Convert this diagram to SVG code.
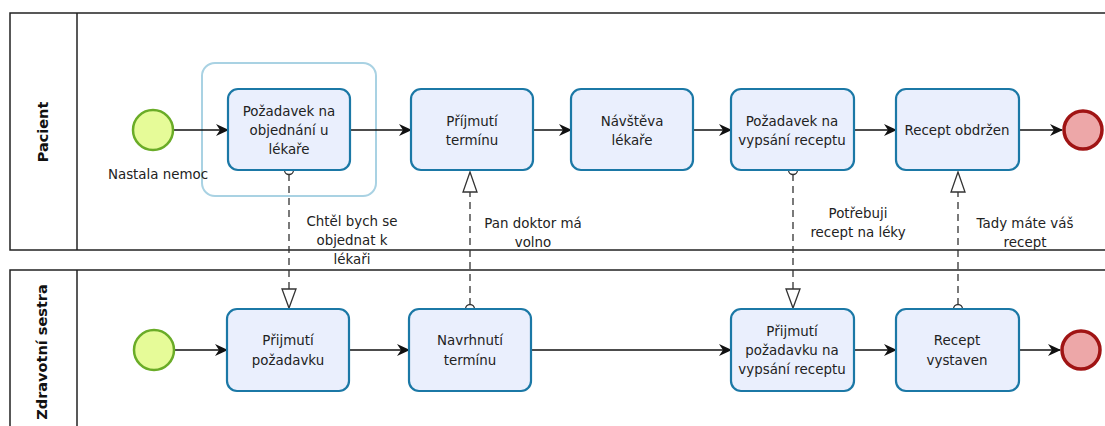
<svg xmlns="http://www.w3.org/2000/svg" width="1105" height="426" viewBox="0 0 1105 426">
<defs>
<style>
.pool{fill:#fff;stroke:#222;stroke-width:1.5}
.task rect{fill:#eaeffd;stroke:#1b78a6;stroke-width:2.2}
.t{font-family:"DejaVu Sans",sans-serif;font-size:13.4px;fill:#222;text-anchor:middle}
.pl{font-family:"DejaVu Sans",sans-serif;font-size:14.5px;font-weight:bold;fill:#111;text-anchor:middle}
.seq{stroke:#111;stroke-width:1.5;fill:none;marker-end:url(#arr)}
.msg{stroke:#333;stroke-width:1.3;fill:none;stroke-dasharray:7,5}
.mc{fill:#fff;stroke:#333;stroke-width:1.3}
.mt{fill:#fff;stroke:#333;stroke-width:1.3}
.start{fill:#e6fb98;stroke:#6aac27;stroke-width:2.5}
.end{fill:#eda7a8;stroke:#a01414;stroke-width:3.5}
</style>
<marker id="arr" markerWidth="14" markerHeight="14" refX="12" refY="7" orient="auto" markerUnits="userSpaceOnUse">
<path d="M0,1 L13,7 L0,13 L4,7 Z" fill="#111"/>
</marker>
</defs>
<g id="pool-pacient">
<rect class="pool" x="10" y="13" width="1110" height="237"/>
<line x1="77" y1="13" x2="77" y2="250" stroke="#222" stroke-width="1.5"/>
<text class="pl" transform="translate(48,132) rotate(-90)">Pacient</text>
</g>
<g id="pool-sestra">
<rect class="pool" x="10" y="270" width="1110" height="170"/>
<line x1="77" y1="270" x2="77" y2="426" stroke="#222" stroke-width="1.5"/>
<text class="pl" transform="translate(47,352) rotate(-90)">Zdravotní sestra</text>
</g>
<g id="group1">
<rect x="202" y="63" width="174" height="133" rx="13" fill="none" stroke="#a9d2e3" stroke-width="2"/>
</g>
<g id="connectors">
<line class="seq" x1="174" y1="130" x2="228" y2="130"/>
<line class="seq" x1="350" y1="130" x2="411" y2="130"/>
<line class="seq" x1="533" y1="130" x2="571" y2="130"/>
<line class="seq" x1="693" y1="130" x2="731" y2="130"/>
<line class="seq" x1="854" y1="130" x2="896" y2="130"/>
<line class="seq" x1="1019" y1="130" x2="1062" y2="130"/>
<line class="seq" x1="175" y1="350" x2="227" y2="350"/>
<line class="seq" x1="349" y1="350" x2="409" y2="350"/>
<line class="seq" x1="531" y1="350" x2="731" y2="350"/>
<line class="seq" x1="854" y1="350" x2="896" y2="350"/>
<line class="seq" x1="1019" y1="350" x2="1060" y2="350"/>
<line class="msg" x1="289" y1="174" x2="289" y2="289"/>
<circle class="mc" cx="289" cy="170" r="4.5"/>
<path class="mt" d="M282,289 L296,289 L289,308 Z"/>
<line class="msg" x1="470" y1="305" x2="470" y2="192"/>
<circle class="mc" cx="470" cy="309" r="4.5"/>
<path class="mt" d="M463,192 L477,192 L470,172 Z"/>
<line class="msg" x1="793" y1="174" x2="793" y2="289"/>
<circle class="mc" cx="793" cy="170" r="4.5"/>
<path class="mt" d="M786,289 L800,289 L793,308 Z"/>
<line class="msg" x1="958" y1="305" x2="958" y2="192"/>
<circle class="mc" cx="958" cy="309" r="4.5"/>
<path class="mt" d="M951,192 L965,192 L958,172 Z"/>
<text class="t" x="352" y="226">Chtěl bych se</text>
<text class="t" x="352" y="245">objednat k</text>
<text class="t" x="352" y="264">lékaři</text>
<text class="t" x="533" y="228">Pan doktor má</text>
<text class="t" x="533" y="247">volno</text>
<text class="t" x="858" y="218">Potřebuji</text>
<text class="t" x="858" y="237">recept na léky</text>
<text class="t" x="1025" y="228">Tady máte váš</text>
<text class="t" x="1025" y="247">recept</text>
</g>
<g id="start1">
<circle class="start" cx="153" cy="130" r="20"/>
<text class="t" x="158" y="179">Nastala nemoc</text>
</g>
<g id="task-pozadavek" class="task">
<rect x="228" y="89" width="122" height="81" rx="10"/>
<text class="t" x="289" y="116">Požadavek na</text>
<text class="t" x="289" y="135">objednání u</text>
<text class="t" x="289" y="154">lékaře</text>
</g>
<g id="task-prijmuti-terminu" class="task">
<rect x="411" y="89" width="122" height="81" rx="10"/>
<text class="t" x="472" y="126">Příjmutí</text>
<text class="t" x="472" y="145">termínu</text>
</g>
<g id="task-navsteva" class="task">
<rect x="571" y="89" width="122" height="81" rx="10"/>
<text class="t" x="632" y="126">Návštěva</text>
<text class="t" x="632" y="145">lékaře</text>
</g>
<g id="task-pozadavek-recept" class="task">
<rect x="731" y="89" width="123" height="81" rx="10"/>
<text class="t" x="792" y="126">Požadavek na</text>
<text class="t" x="792" y="145">vypsání receptu</text>
</g>
<g id="task-recept-obdrzen" class="task">
<rect x="896" y="89" width="123" height="81" rx="10"/>
<text class="t" x="957" y="135">Recept obdržen</text>
</g>
<g id="end1">
<circle class="end" cx="1083" cy="130" r="19"/>
</g>
<g id="start2">
<circle class="start" cx="154" cy="350" r="20"/>
</g>
<g id="task-prijmuti-pozadavku" class="task">
<rect x="227" y="309" width="122" height="82" rx="10"/>
<text class="t" x="288" y="345">Přijmutí</text>
<text class="t" x="288" y="365">požadavku</text>
</g>
<g id="task-navrhnuti" class="task">
<rect x="409" y="309" width="122" height="82" rx="10"/>
<text class="t" x="470" y="345">Navrhnutí</text>
<text class="t" x="470" y="365">termínu</text>
</g>
<g id="task-prijmuti-recept" class="task">
<rect x="731" y="309" width="123" height="82" rx="10"/>
<text class="t" x="792" y="336">Přijmutí</text>
<text class="t" x="792" y="355">požadavku na</text>
<text class="t" x="792" y="374">vypsání receptu</text>
</g>
<g id="task-recept-vystaven" class="task">
<rect x="896" y="309" width="123" height="82" rx="10"/>
<text class="t" x="957" y="345">Recept</text>
<text class="t" x="957" y="365">vystaven</text>
</g>
<g id="end2">
<circle class="end" cx="1081" cy="350" r="19"/>
</g>
</svg>
